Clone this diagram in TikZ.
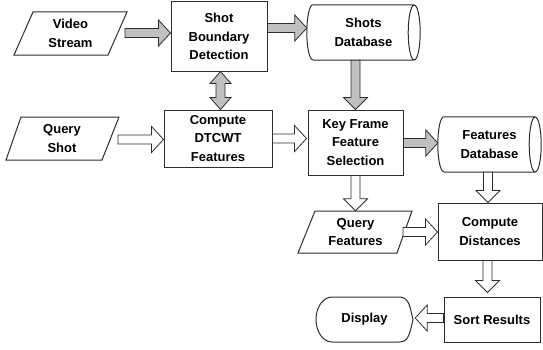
\documentclass[tikz,border=0pt]{standalone}
\usepackage{fontspec}
\setmainfont{Liberation Sans}
\usetikzlibrary{calc}
\definecolor{gfill}{RGB}{192,192,192}
\definecolor{lcol}{RGB}{45,45,45}
\newcommand\hblock[3]{\draw[#1] let \p1=(#2),\p2=(#3),\n1={ifthenelse(\x2>\x1,1,-1)} in
 (\x1,\y1-4.5pt) -- (\x2-\n1*12pt,\y1-4.5pt) -- (\x2-\n1*12pt,\y1-13pt) -- (\x2,\y1) --
 (\x2-\n1*12pt,\y1+13pt) -- (\x2-\n1*12pt,\y1+4.5pt) -- (\x1,\y1+4.5pt) -- cycle;}
\newcommand\vblock[3]{\draw[#1] let \p1=(#2),\p2=(#3),\n1={ifthenelse(\y2>\y1,1,-1)} in
 (\x1-4.5pt,\y1) -- (\x1-4.5pt,\y2-\n1*12pt) -- (\x1-12pt,\y2-\n1*12pt) -- (\x1,\y2) --
 (\x1+12pt,\y2-\n1*12pt) -- (\x1+4.5pt,\y2-\n1*12pt) -- (\x1+4.5pt,\y1) -- cycle;}
\begin{document}
\begin{tikzpicture}[x=1pt,y=1pt,
  every node/.style={font=\bfseries\fontsize{13}{18.3}\selectfont,align=center,inner sep=0pt},
  box/.style={draw=lcol,line width=1pt,minimum width=#1},
  shapeline/.style={draw=lcol,line width=1pt},
  gblock/.style={draw=lcol,fill=gfill,line width=0.8pt,line join=miter},
  wblock/.style={draw=lcol,fill=white,line width=0.8pt,line join=miter}]
\useasboundingbox (0,0) rectangle (543,349);
% boxes
\node[box=96pt,minimum height=69pt] (sbd) at (219,312.5) {Shot\\Boundary\\Detection};
\node[box=108pt,minimum height=57pt] (dt) at (218,210.5) {Compute\\DTCWT\\Features};
\node[box=95pt,minimum height=65pt] (kf) at (355.5,206.5) {Key Frame\\Feature\\Selection};
\node[box=104pt,minimum height=57pt] (cd) at (490,117.5) {Compute\\Distances};
\node[box=96pt,minimum height=45pt] (sr) at (492,29.5) {Sort Results};
% parallelograms
\node[minimum width=94pt,minimum height=43pt] (vs) at (70.5,315.5) {Video\\Stream};
\draw[shapeline,shift={(vs.center)}] (-37.5,21.5) -- (56.5,21.5) -- (37.5,-21.5) -- (-56.5,-21.5) -- cycle;
\node[minimum width=97pt,minimum height=43pt] (qs) at (62,210.5) {Query\\Shot};
\draw[shapeline,shift={(qs.center)}] (-41,21.5) -- (57,21.5) -- (40,-21.5) -- (-56,-21.5) -- cycle;
\node[minimum width=97pt,minimum height=42pt] (qf) at (355.5,117) {Query\\Features};
\draw[shapeline,shift={(qf.center)}] (-40.5,21) -- (56.5,21) -- (41.5,-21) -- (-57.5,-21) -- cycle;
% cylinders
\node[minimum width=101pt,minimum height=55pt] (sdb) at (363.5,316.5) {Shots\\Database};
\draw[shapeline] (sdb.north west) -- (sdb.north east) (sdb.south west) -- (sdb.south east)
  (sdb.east) ellipse[x radius=6pt,y radius=27.5pt]
  (sdb.north west) arc[start angle=90,end angle=270,x radius=6pt,y radius=27.5pt];
\node[minimum width=91pt,minimum height=55pt] (fdb) at (489.5,204.5) {Features\\Database};
\draw[shapeline] (fdb.north west) -- (fdb.north east) (fdb.south west) -- (fdb.south east)
  (fdb.east) ellipse[x radius=6pt,y radius=27.5pt]
  (fdb.north west) arc[start angle=90,end angle=270,x radius=6pt,y radius=27.5pt];
% display
\node[minimum width=97pt,minimum height=45pt] (disp) at (364.5,29.5) {Display};
\draw[shapeline,shift={(disp.center)}] (-32.5,22.5) -- (35,22.5) to[out=0,in=105] (48.5,0)
  to[out=-105,in=0] (35,-22.5) -- (-32.5,-22.5) arc[start angle=270,end angle=90,x radius=16pt,y radius=22.5pt];
% arrows
\hblock{gblock}{$(vs)+(54.5,0.5)$}{sbd.west}
\hblock{gblock}{$(sbd.east)+(0,8.5)$}{$(sdb.west)+(-6,0)$}
\vblock{gblock}{kf.north |- sdb.south}{kf.north}
\draw[gblock] let \p1=($(sbd.south)+(1.5,0)$), \p2=(dt.north) in
  (\x1,\y1) -- (\x1+10.5pt,\y1-12pt) -- (\x1+4.5pt,\y1-12pt) -- (\x1+4.5pt,\y2+12pt) --
  (\x1+10.5pt,\y2+12pt) -- (\x1,\y2) -- (\x1-10.5pt,\y2+12pt) -- (\x1-4.5pt,\y2+12pt) --
  (\x1-4.5pt,\y1-12pt) -- (\x1-10.5pt,\y1-12pt) -- cycle;
\hblock{wblock}{$(qs)+(56,-1)$}{dt.west}
\hblock{wblock}{dt.east}{$(kf.west)+(-1,0)$}
\hblock{gblock}{$(kf.east)+(0,-0.5)$}{$(fdb.west)+(-6,0)$}
\vblock{wblock}{kf.south}{qf.north}
\vblock{wblock}{$(fdb.south)+(-1.5,0)$}{cd.north}
\hblock{wblock}{$(qf)+(47.5,0)$}{cd.west}
\vblock{wblock}{$(cd.south)+(-2.5,0)$}{$(sr.north)+(0,4)$}
\hblock{wblock}{$(sr.west)+(0,1.5)$}{$(disp.east)+(2,0)$}
\end{tikzpicture}
\end{document}
